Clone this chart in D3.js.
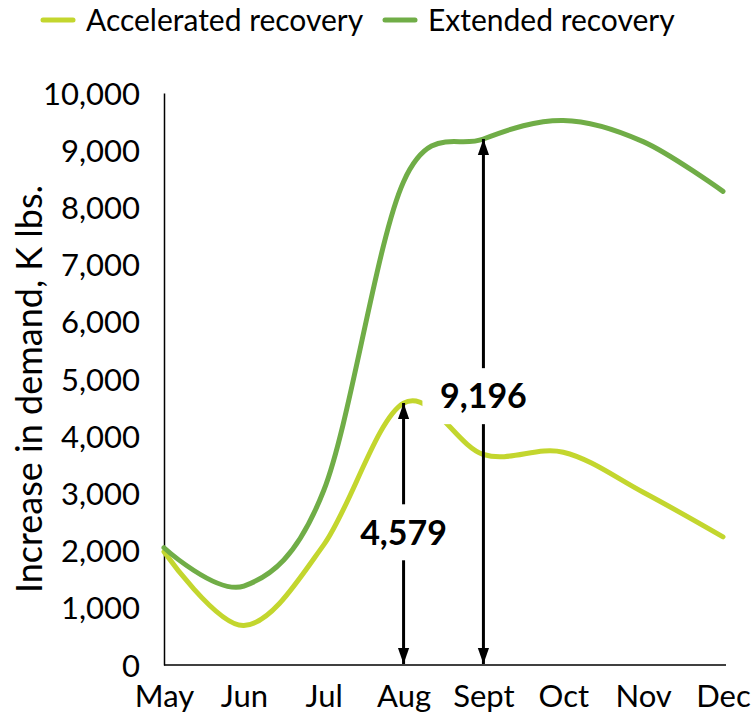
<!DOCTYPE html>
<html>
<head>
<meta charset="utf-8">
<script src="https://cdn.jsdelivr.net/npm/d3@7"></script>
<style>
  body { margin: 0; background: #fff; }
  text { font-family: Lato, "Open Sans", sans-serif; fill: #000; }
</style>
</head>
<body>
<svg id="root"></svg>
<script>
var width = 756,
    height = 720;

// data
var months = ['May', 'Jun', 'Jul', 'Aug', 'Sept', 'Oct', 'Nov', 'Dec'];
var accelerated = [1980, 690, 2100, 4579, 3680, 3720, 3020, 2240];
var extended = [2050, 1380, 3050, 8450, 9196, 9520, 9150, 8280];
var yTicks = [0, 1000, 2000, 3000, 4000, 5000, 6000, 7000, 8000, 9000, 10000];
var seriesNames = ['Accelerated recovery', 'Extended recovery'];
var colors = ['#C3D62E', '#70AD47'];
// annotations: month, value, where the label sits (in data units)
var notes = [
  { month: 'Aug', value: 4579, labelAt: 2320 },
  { month: 'Sept', value: 9196, labelAt: 4700 }
];
var boxHalf = [48, 61];

var margin = { left: 164, right: 33, top: 93, bottom: 55 };

var root = d3.select('#root')
    .attr('width', width)
    .attr('height', height);

var x = d3.scalePoint()
    .domain(months)
    .range([margin.left, width - margin.right]);

var y = d3.scaleLinear()
    .domain([0, 10000])
    .range([height - margin.bottom, margin.top]);

var fmt = d3.format(',');

// axes (lines only, no tick marks)
var yAxis = root.append('g')
    .attr('transform', 'translate(' + margin.left + ',0)')
    .call(d3.axisLeft(y).tickValues(yTicks).tickFormat(fmt).tickSize(0).tickPadding(24));
yAxis.select('.domain').attr('stroke', '#000').attr('stroke-width', 1.5);
yAxis.selectAll('text')
    .style('font-size', '31px')
    .attr('dy', '0.36em');

var xAxis = root.append('g')
    .attr('transform', 'translate(0,' + y(0) + ')')
    .call(d3.axisBottom(x).tickSize(0).tickPadding(20));
xAxis.select('.domain').attr('stroke', '#000').attr('stroke-width', 1.5)
    .attr('d', 'M' + margin.left + ',0H' + (width - margin.right + 3));
xAxis.selectAll('text')
    .style('font-size', '31px')
    .attr('dy', '0.72em');

root.append('text')
    .attr('transform', 'translate(42,' + ((margin.top + y(0)) / 2 + 10) + ') rotate(-90)')
    .attr('text-anchor', 'middle')
    .style('font-size', '36px')
    .text('Increase in demand, K lbs.');

// lines
var line = d3.line()
    .x(function(d, i) { return x(months[i]); })
    .y(function(d) { return y(d); })
    .curve(d3.curveCardinal.tension(0));

root.selectAll('.series')
    .data([accelerated, extended])
    .enter()
        .append('path')
        .attr('class', 'series')
        .attr('d', line)
        .attr('fill', 'none')
        .attr('stroke', function(d, i) { return colors[i]; })
        .attr('stroke-width', 5)
        .attr('stroke-linecap', 'round');

// arrows
var defs = root.append('defs');
defs.append('marker')
    .attr('id', 'head')
    .attr('viewBox', '0 0 10 10')
    .attr('refX', 10)
    .attr('refY', 5)
    .attr('markerUnits', 'userSpaceOnUse')
    .attr('markerWidth', 16)
    .attr('markerHeight', 16)
    .attr('orient', 'auto-start-reverse')
    .append('path')
    .attr('d', 'M0,1.5L10,5L0,8.5Z')
    .attr('fill', '#000');

var note = root.selectAll('.note')
    .data(notes)
    .enter()
        .append('g')
        .attr('class', 'note');

note.append('line')
    .attr('x1', function(d) { return x(d.month); })
    .attr('x2', function(d) { return x(d.month); })
    .attr('y1', function(d) { return y(0) - 1; })
    .attr('y2', function(d) { return y(d.value); })
    .attr('stroke', '#000')
    .attr('stroke-width', 3)
    .attr('marker-start', 'url(#head)')
    .attr('marker-end', 'url(#head)');

note.append('rect')
    .attr('x', function(d, i) { return x(d.month) - boxHalf[i]; })
    .attr('y', function(d) { return y(d.labelAt) - 28; })
    .attr('width', function(d, i) { return boxHalf[i] * 2; })
    .attr('height', 56)
    .attr('fill', '#fff');

note.append('text')
    .attr('x', function(d) { return x(d.month); })
    .attr('y', function(d) { return y(d.labelAt); })
    .attr('dy', '0.36em')
    .attr('text-anchor', 'middle')
    .style('font-size', '34px')
    .style('font-weight', 'bold')
    .text(function(d) { return fmt(d.value); });

// legend
var legendX = [43, 385];
var legend = root.selectAll('.legend')
    .data(seriesNames)
    .enter()
        .append('g')
        .attr('class', 'legend')
        .attr('transform', function(d, i) { return 'translate(' + legendX[i] + ',20)'; });

legend.append('line')
    .attr('x1', 0)
    .attr('x2', 30)
    .attr('stroke', function(d, i) { return colors[i]; })
    .attr('stroke-width', 5)
    .attr('stroke-linecap', 'round');

legend.append('text')
    .attr('x', 43)
    .attr('dy', '0.36em')
    .style('font-size', '30px')
    .text(function(d) { return d; });
</script>
</body>
</html>
